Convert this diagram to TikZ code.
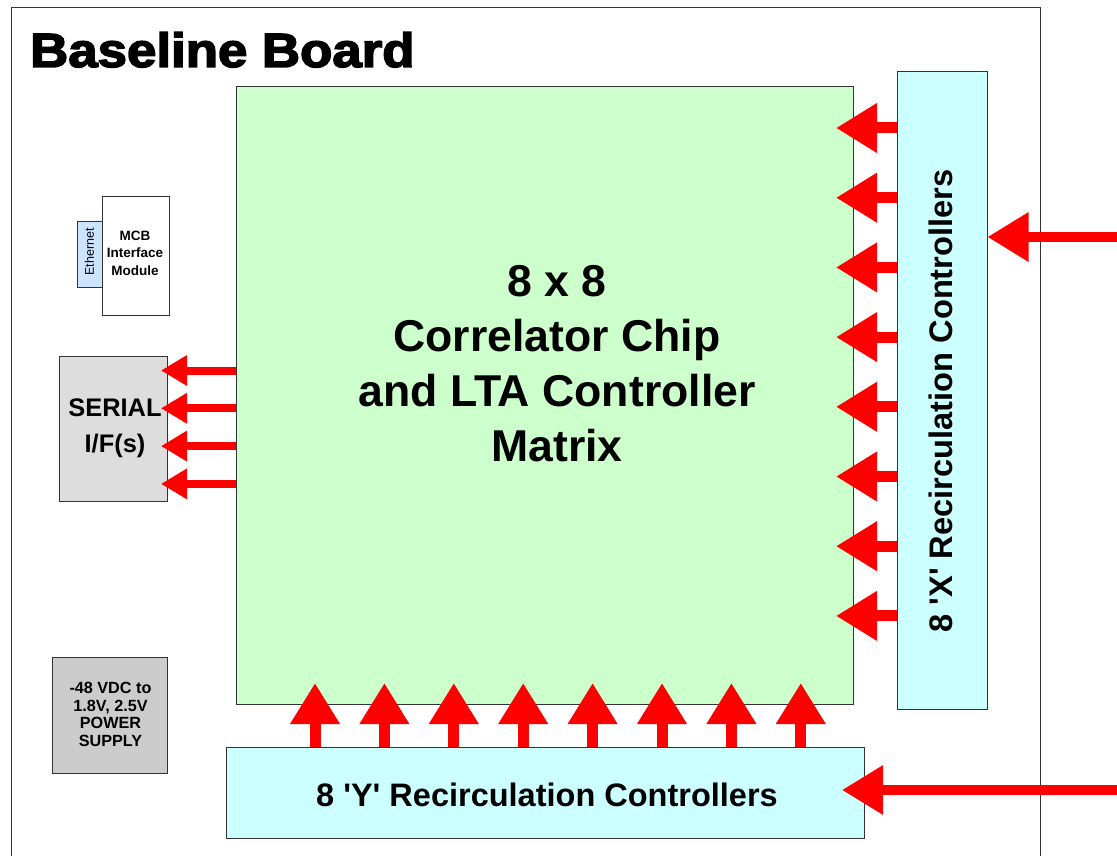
\documentclass[tikz,border=0pt]{standalone}
\usepackage{fontspec}
\setmainfont{Liberation Sans}
\newfontfamily\titlefont{Liberation Sans}[BoldFeatures={FakeBold=3}]
\usetikzlibrary{arrows.meta}
\definecolor{chipgreen}{HTML}{CCFFCC}
\definecolor{ctrlcyan}{HTML}{CCFFFF}
\definecolor{ethblue}{HTML}{CCE4FF}
\definecolor{serialgray}{HTML}{DDDDDD}
\definecolor{powergray}{HTML}{CCCCCC}
\definecolor{edge}{HTML}{333333}
\tikzset{
  box/.style={draw=edge, line width=1pt, inner sep=0pt},
  boardline/.style={draw=edge, line width=1pt},
  bigarrow/.style={draw=red, line width=11pt, -{Triangle[length=41pt,width=47pt]}},
  inarrow/.style={draw=red, line width=9.5pt, -{Triangle[length=41pt,width=47pt]}},
  smallarrow/.style={draw=red, line width=8pt, -{Triangle[length=26pt,width=29pt]}},
  lbl/.style={inner sep=0pt, align=center, font=\bfseries},
}
\begin{document}
\begin{tikzpicture}[x=1pt,y=-1pt]
\useasboundingbox (0,0) rectangle (1117,856);
\clip (0,0) rectangle (1117,856);
% board outline
\draw[boardline] (11,900) -- (11,8) -- (1040,8) -- (1040,900);
\node[anchor=base west, inner sep=0pt] (title) at (30,67)
  {\titlefont\bfseries\fontsize{48}{50}\selectfont\scalebox{1.10}[1]{Baseline Board}};
% main chip matrix
\node[box, fill=chipgreen, minimum width=617pt, minimum height=617pt] (chip) at (544.5,395.5) {};
\node[lbl, font=\bfseries\fontsize{44.6}{55}\selectfont] (chiplbl) at (557,364)
  {8 x 8\\Correlator Chip\\and LTA Controller\\Matrix};
% X controllers
\node[box, fill=ctrlcyan, minimum width=90pt, minimum height=637pt] (xbox) at (942,390.5) {};
\node[lbl, rotate=90, font=\bfseries\fontsize{32.6}{36}\selectfont] (xlbl) at (941,401)
  {8 \textquotesingle X\textquotesingle\ Recirculation Controllers};
% Y controllers
\node[box, fill=ctrlcyan, minimum width=638pt, minimum height=91pt] (ybox) at (545,792.5) {};
\node[lbl, font=\bfseries\fontsize{32.5}{36}\selectfont] (ylbl) at (547,795)
  {8 \textquotesingle Y\textquotesingle\ Recirculation Controllers};
% MCB interface
\node[box, fill=white, minimum width=67pt, minimum height=118pt] (mcb) at (135.5,256) {};
\node[lbl, font=\bfseries\fontsize{13.5}{17.5}\selectfont] (mcblbl) at (135,253)
  {MCB\\Interface\\Module};
\node[box, fill=ethblue, minimum width=25pt, minimum height=66pt] (eth) at (89.5,254) {};
\node[inner sep=0pt, rotate=90, font=\fontsize{12.5}{14}\selectfont] (ethlbl) at (89.5,252) {Ethernet};
% serial
\node[box, fill=serialgray, minimum width=108pt, minimum height=145pt] (serial) at (113,428.5) {};
\node[lbl, font=\bfseries\fontsize{25.4}{36}\selectfont] (seriallbl) at (115,428) {SERIAL\\I/F(s)};
% power supply
\node[box, fill=powergray, minimum width=115pt, minimum height=116pt] (power) at (109.5,715) {};
\node[lbl, font=\bfseries\fontsize{16.2}{17.7}\selectfont] (powerlbl) at (110.5,714.5)
  {-48 VDC to\\1.8V, 2.5V\\POWER\\SUPPLY};
% X arrows into chip
\foreach \i in {0,...,7} {
  \coordinate (xt\i) at (836,128+69.7*\i);
  \draw[bigarrow] (xbox.west |- xt\i) -- (xt\i);
}
% Y arrows into chip
\foreach \i in {0,...,7} {
  \coordinate (yt\i) at (315+69.4*\i,683);
  \draw[bigarrow] (ybox.north -| yt\i) -- (yt\i);
}
% serial arrows
\foreach \i in {0,...,3} {
  \coordinate (st\i) at (161,370.5+37.8*\i);
  \draw[smallarrow] (chip.west |- st\i) -- (st\i);
}
% external inputs
\coordinate (xin) at (1130,237);
\draw[inarrow] (xin) -- (xbox.east |- xin);
\coordinate (yin) at (1130,790);
\coordinate (ytip) at (842,790);
\draw[inarrow] (yin) -- (ytip);
\end{tikzpicture}
\end{document}
